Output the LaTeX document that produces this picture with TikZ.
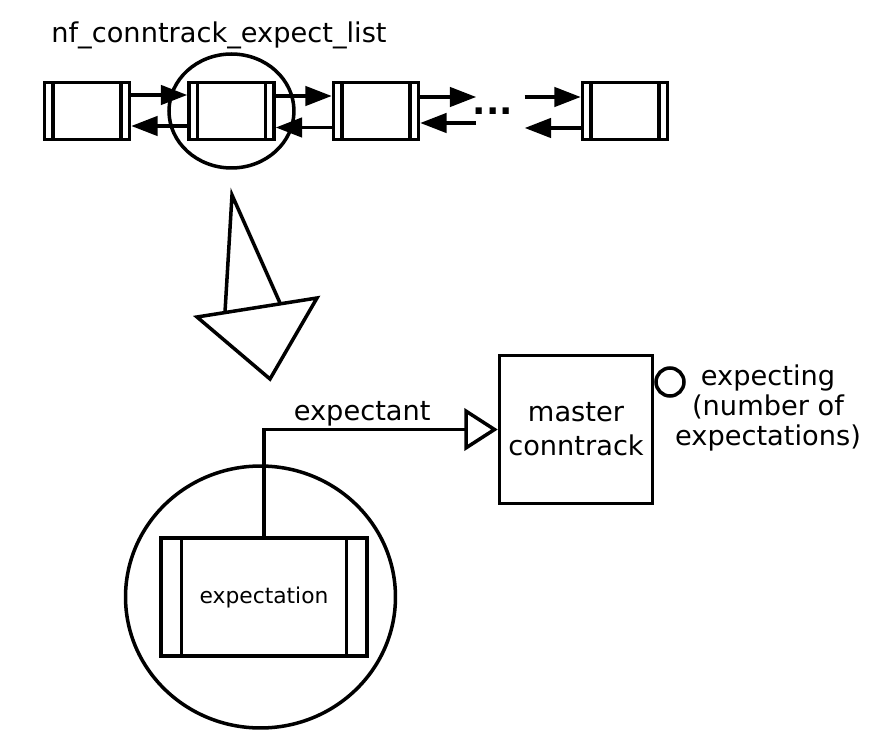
\documentclass[tikz,border=0pt]{standalone}
\usepackage{fontspec}
\setmainfont{DejaVu Sans}
\usetikzlibrary{arrows.meta, positioning}

\begin{document}
\begin{tikzpicture}[
  x=0.02cm, y=-0.02cm,
  node distance=1.12cm,
  line width=2pt,
  font=\fontsize{15.5}{19.4}\selectfont,
  elem/.style={rectangle, draw, inner sep=0pt, minimum width=1.7cm, minimum height=1.14cm,
    path picture={\draw ([xshift=#1]path picture bounding box.north west) -- ([xshift=#1]path picture bounding box.south west)
      ([xshift=-#1]path picture bounding box.north east) -- ([xshift=-#1]path picture bounding box.south east);}},
  elem/.default=0.17cm,
  arrow/.style={-{Triangle[length=15pt, width=11pt]}},
  hook/.style={-{Triangle[open, length=19pt, width=24pt]}}
]
\useasboundingbox (0,0) rectangle (875,739);

% the expect list
\node[anchor=base] (title) at (219,43) {nf\_conntrack\_expect\_list};
\node[elem] (e1) at (87,111) {};
\node[elem, right=of e1] (e2) {};
\node[elem, right=of e2] (e3) {};
\node[minimum width=0.9cm, inner sep=0pt, font=\bfseries\fontsize{20}{20}\selectfont, right=of e3] (dots) {\hspace{-0.3cm}...};
\node[elem, right=of dots] (e5) {};

\draw[arrow] ([yshift=0.32cm]e1.east) -- ([yshift=0.32cm]e2.west);
\draw[arrow] ([yshift=-0.3cm]e2.west) -- ([yshift=-0.3cm]e1.east);
\draw[arrow] ([yshift=0.3cm]e2.east) -- ([yshift=0.3cm]e3.west);
\draw[arrow] ([yshift=-0.33cm]e3.west) -- ([yshift=-0.33cm]e2.east);
\draw[arrow] ([yshift=0.28cm]e3.east) -- ([yshift=0.28cm]dots.west);
\draw[arrow] ([yshift=-0.24cm]dots.west) -- ([yshift=-0.24cm]e3.east);
\draw[arrow] ([yshift=0.28cm]dots.east) -- ([yshift=0.28cm]e5.west);
\draw[arrow] ([yshift=-0.34cm]e5.west) -- ([yshift=-0.34cm]dots.east);

\draw (e2) ellipse [x radius=1.25cm, y radius=1.14cm];

% zoom arrow
\draw (225,312) -- (232,195) -- (280,303);
\draw (197,317) -- (317,298) -- (270,379) -- cycle;

% one expectation
\node[elem=0.41cm, minimum width=4.12cm, minimum height=2.36cm, font=\fontsize{12.4}{15}\selectfont] (expect) at (264,597) {expectation};
\draw ([xshift=-0.07cm]expect.center) ellipse [x radius=2.7cm, y radius=2.62cm];

\node[draw, minimum width=3.06cm, minimum height=2.96cm, align=center] (master) at (576,429.5) {master\\conntrack};
\node[circle, draw, minimum size=0.56cm, inner sep=0pt, anchor=west] (count) at ([yshift=0.95cm]master.east) {};
\node[align=center, font=\fontsize{15.5}{16.8}\selectfont] (expecting) at (768,408) {expecting\\(number of\\expectations)};

\draw[hook] (expect.north) |- node[pos=0.71, above, inner sep=1pt] (expectant) {expectant} (master.west);
\end{tikzpicture}
\end{document}
